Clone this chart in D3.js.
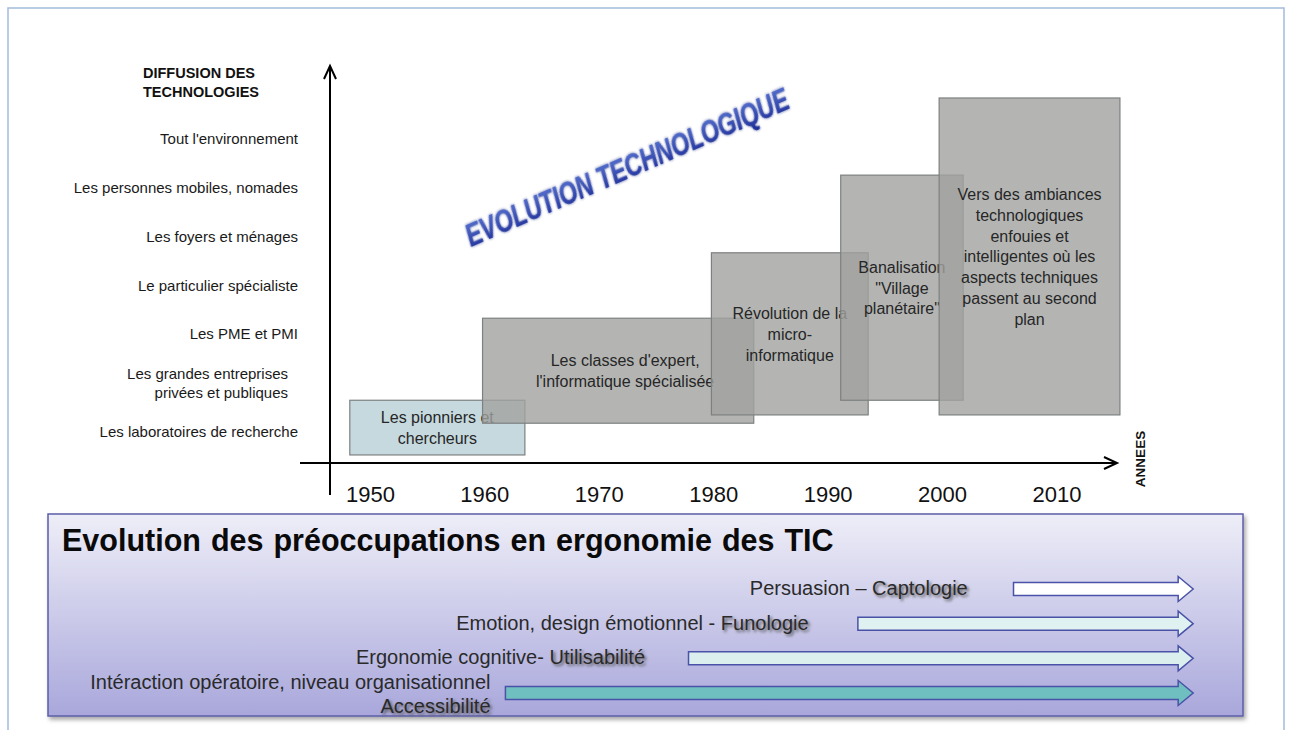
<!DOCTYPE html>
<html>
<head lang="fr">
    <meta charset="UTF-8">
    <title>Evolution technologique</title>
    <script src="https://cdnjs.cloudflare.com/ajax/libs/d3/7.8.5/d3.min.js" charset="utf-8"></script>
    <style>
        body { margin: 0; background: white; }
        text { font-family: "Liberation Sans", Arial, sans-serif; }
    </style>
</head>

<body>
<div id="chart"></div>
<script>

// axe vertical : niveaux de diffusion (0 = bas)
var levels = [
    ["Les laboratoires de recherche"],
    ["Les grandes entreprises", "privées et publiques"],
    ["Les PME et PMI"],
    ["Le particulier spécialiste"],
    ["Les foyers et ménages"],
    ["Les personnes mobiles, nomades"],
    ["Tout l'environnement"]
];
var years = [1950, 1960, 1970, 1980, 1990, 2000, 2010];

// périodes : début / fin en années, bas / haut en niveaux
var periodText = [
    ["Les pionniers et", "chercheurs"],
    ["Les classes d'expert,", "l'informatique spécialisée"],
    ["Révolution de la", "micro-", "informatique"],
    ["Banalisation", "\"Village", "planétaire\""],
    ["Vers des ambiances", "technologiques", "enfouies et", "intelligentes où les", "aspects techniques", "passent au second", "plan"]
];
var periodStart = [1948.2, 1959.8, 1979.8, 1991.1, 1999.7];
var periodEnd   = [1963.5, 1983.5, 1993.5, 2001.8, 2015.5];
var periodLow   = [-0.47, 0.18, 0.35, 0.65, 0.35];
var periodHigh  = [0.65, 2.33, 3.67, 5.26, 6.84];

// préoccupations en ergonomie (flèches)
var concernPrefix = ["Persuasion – ", "Emotion, design émotionnel - ", "Ergonomie cognitive- ", "Intéraction opératoire, niveau organisationnel"];
var concernMain   = ["Captologie", "Funologie", "Utilisabilité", "Accessibilité"];
var concernStart  = [2006.2, 1992.6, 1977.8, 1961.8];
var concernLabelEnd = [2002.2, 1988.3, 1974.0, 1960.5];
var concernTip = 2021.9;
var concernFill = ["#ffffff", "#e0f1f1", "#dcefef", "#70bfc0"];

var width = 1289, height = 730;

var svg = d3.select('#chart').append('svg')
    .attr('width', width)
    .attr('height', height);

var defs = svg.append('defs');

var grad = defs.append('linearGradient').attr('id', 'panelGrad')
    .attr('x1', 0).attr('y1', 0).attr('x2', 0).attr('y2', 1);
grad.append('stop').attr('offset', '0%').attr('stop-color', '#eeeef8');
grad.append('stop').attr('offset', '100%').attr('stop-color', '#a9a7db');

var shadow = defs.append('filter').attr('id', 'panelShadow')
    .attr('x', '-5%').attr('y', '-5%').attr('width', '110%').attr('height', '120%');
shadow.append('feDropShadow').attr('dx', 2).attr('dy', 3).attr('stdDeviation', 2)
    .attr('flood-color', '#000').attr('flood-opacity', 0.35);

var soft = defs.append('filter').attr('id', 'soft');
soft.append('feGaussianBlur').attr('stdDeviation', 1.4);

var wordBlur = defs.append('filter').attr('id', 'wordBlur')
    .attr('x', '-10%').attr('y', '-30%').attr('width', '120%').attr('height', '160%');
wordBlur.append('feGaussianBlur').attr('stdDeviation', 0.7);

var wordGrad = defs.append('linearGradient').attr('id', 'wordGrad')
    .attr('x1', 0).attr('y1', 0).attr('x2', 0).attr('y2', 1);
wordGrad.append('stop').attr('offset', '0%').attr('stop-color', '#5b78d6');
wordGrad.append('stop').attr('offset', '100%').attr('stop-color', '#1d2c96');

// cadre
svg.append('rect')
    .attr('x', 8).attr('y', 8)
    .attr('width', 1276).attr('height', 740)
    .attr('fill', 'white')
    .attr('stroke', '#a3bbdd')
    .attr('stroke-width', 1.5);

var x = d3.scaleLinear().domain([1950, 2010]).range([370.4, 1057]);
var y = d3.scaleLinear().domain([0, 6]).range([432, 139]);

// titre vertical
svg.append('text')
    .attr('x', 143).attr('y', 78)
    .attr('font-size', 14.5).attr('font-weight', 'bold').attr('fill', '#111')
    .selectAll('tspan').data(["DIFFUSION DES", "TECHNOLOGIES"]).join('tspan')
    .attr('x', 143).attr('dy', function (d, i) { return i ? 19 : 0; })
    .text(function (d) { return d; });

// libellés des niveaux
svg.selectAll('.level').data(levels).join('text')
    .attr('class', 'level')
    .attr('text-anchor', 'end')
    .attr('font-size', 15)
    .attr('fill', '#1a1a1a')
    .each(function (d, i) {
        var t = d3.select(this);
        var y0 = y(i) + 5 - (d.length - 1) * 9.5;
        d.forEach(function (line, j) {
            t.append('tspan')
                .attr('x', d.length > 1 ? 288 : 298)
                .attr('y', y0 + j * 19)
                .text(line);
        });
    });

// axes
var axes = svg.append('g').attr('stroke', '#000').attr('stroke-width', 2).attr('fill', 'none');
axes.append('line').attr('x1', 330).attr('y1', 66).attr('x2', 330).attr('y2', 495);
axes.append('path').attr('d', 'M324,79L330,66L336,79');
axes.append('line').attr('x1', 300).attr('y1', 463).attr('x2', 1116).attr('y2', 463);
axes.append('path').attr('d', 'M1104,457L1117,463L1104,469');

svg.selectAll('.year').data(years).join('text')
    .attr('class', 'year')
    .attr('x', function (d) { return x(d); })
    .attr('y', 502)
    .attr('text-anchor', 'middle')
    .attr('font-size', 22)
    .attr('fill', '#111')
    .text(function (d) { return d; });

svg.append('text')
    .attr('transform', 'translate(1145,459) rotate(-90)')
    .attr('text-anchor', 'middle')
    .attr('font-size', 13.5).attr('font-weight', 'bold').attr('fill', '#111')
    .text('ANNEES');

// EVOLUTION TECHNOLOGIQUE
var word = svg.append('g').attr('transform', 'translate(471,247) rotate(-23.5) scale(0.78,1.05)');
word.append('text')
    .attr('font-size', 30).attr('font-weight', 'bold').attr('font-style', 'italic')
    .attr('fill', '#0d1a78').attr('opacity', 0.7)
    .attr('filter', 'url(#soft)')
    .text('EVOLUTION TECHNOLOGIQUE');
word.append('text')
    .attr('font-size', 30).attr('font-weight', 'bold').attr('font-style', 'italic')
    .attr('fill', 'url(#wordGrad)')
    .attr('filter', 'url(#wordBlur)')
    .text('EVOLUTION TECHNOLOGIQUE');

// périodes
periodText.forEach(function (lines, i) {
    var x0 = x(periodStart[i]), x1 = x(periodEnd[i]);
    var y0 = y(periodHigh[i]), y1 = y(periodLow[i]);
    svg.append('rect')
        .attr('x', x0).attr('y', y0)
        .attr('width', x1 - x0).attr('height', y1 - y0)
        .attr('fill', i === 0 ? '#c5d9df' : '#a1a3a0')
        .attr('fill-opacity', i === 0 ? 1 : 0.8)
        .attr('stroke', '#7d8080')
        .attr('stroke-width', 1.2);
    var cx = (x0 + x1) / 2, cy = (y0 + y1) / 2;
    var lh = 20.7;
    var t = svg.append('text')
        .attr('text-anchor', 'middle')
        .attr('font-size', 16)
        .attr('fill', '#262626');
    lines.forEach(function (line, j) {
        t.append('tspan')
            .attr('x', cx + (i === 1 ? 7 : 0))
            .attr('y', cy + 6 + (j - (lines.length - 1) / 2) * lh)
            .text(line);
    });
});

// panneau du bas
svg.append('rect')
    .attr('x', 48).attr('y', 514)
    .attr('width', 1195).attr('height', 202)
    .attr('fill', 'url(#panelGrad)')
    .attr('stroke', '#5c5ea8')
    .attr('stroke-width', 1.5)
    .attr('filter', 'url(#panelShadow)');

svg.append('text')
    .attr('x', 62).attr('y', 551)
    .attr('font-size', 30.5).attr('font-weight', 'bold').attr('fill', '#0a0a0a')
    .attr('word-spacing', 1.5)
    .text('Evolution des préoccupations en ergonomie des TIC');

var row = d3.scalePoint().domain(d3.range(concernMain.length)).range([589, 693]);

concernMain.forEach(function (main, i) {
    var x0 = x(concernStart[i]), x1 = x(concernTip), cy = row(i);
    var h = 6.5, H = 12.5, L = 15;
    svg.append('path')
        .attr('d', 'M' + x0 + ',' + (cy - h) + 'L' + (x1 - L) + ',' + (cy - h) + 'L' + (x1 - L) + ',' + (cy - H) +
            'L' + x1 + ',' + cy + 'L' + (x1 - L) + ',' + (cy + H) + 'L' + (x1 - L) + ',' + (cy + h) +
            'L' + x0 + ',' + (cy + h) + 'Z')
        .attr('fill', concernFill[i])
        .attr('stroke', '#4a52a8')
        .attr('stroke-width', 1.5);

    var xe = x(concernLabelEnd[i]);
    var twoLines = i === concernMain.length - 1;
    var yMain = twoLines ? cy + 20 : cy + 6;

    if (twoLines) {
        svg.append('text')
            .attr('x', xe).attr('y', cy - 4)
            .attr('text-anchor', 'end').attr('font-size', 20)
            .attr('fill', '#2a2a2a')
            .text(concernPrefix[i]);
    }
    // ombre du mot principal
    [true, false].forEach(function (isShadow) {
        var t = svg.append('text')
            .attr('x', xe + (isShadow ? 2 : 0)).attr('y', yMain + (isShadow ? 2 : 0))
            .attr('text-anchor', 'end').attr('font-size', 20);
        if (isShadow) t.attr('filter', 'url(#soft)');
        if (!twoLines) {
            t.append('tspan')
                .attr('fill', isShadow ? 'none' : '#2a2a2a')
                .text(concernPrefix[i]);
        }
        t.append('tspan')
            .attr('fill', isShadow ? '#555' : '#2a2a2a')
            .text(main);
    });
});

</script>
</body>
</html>
